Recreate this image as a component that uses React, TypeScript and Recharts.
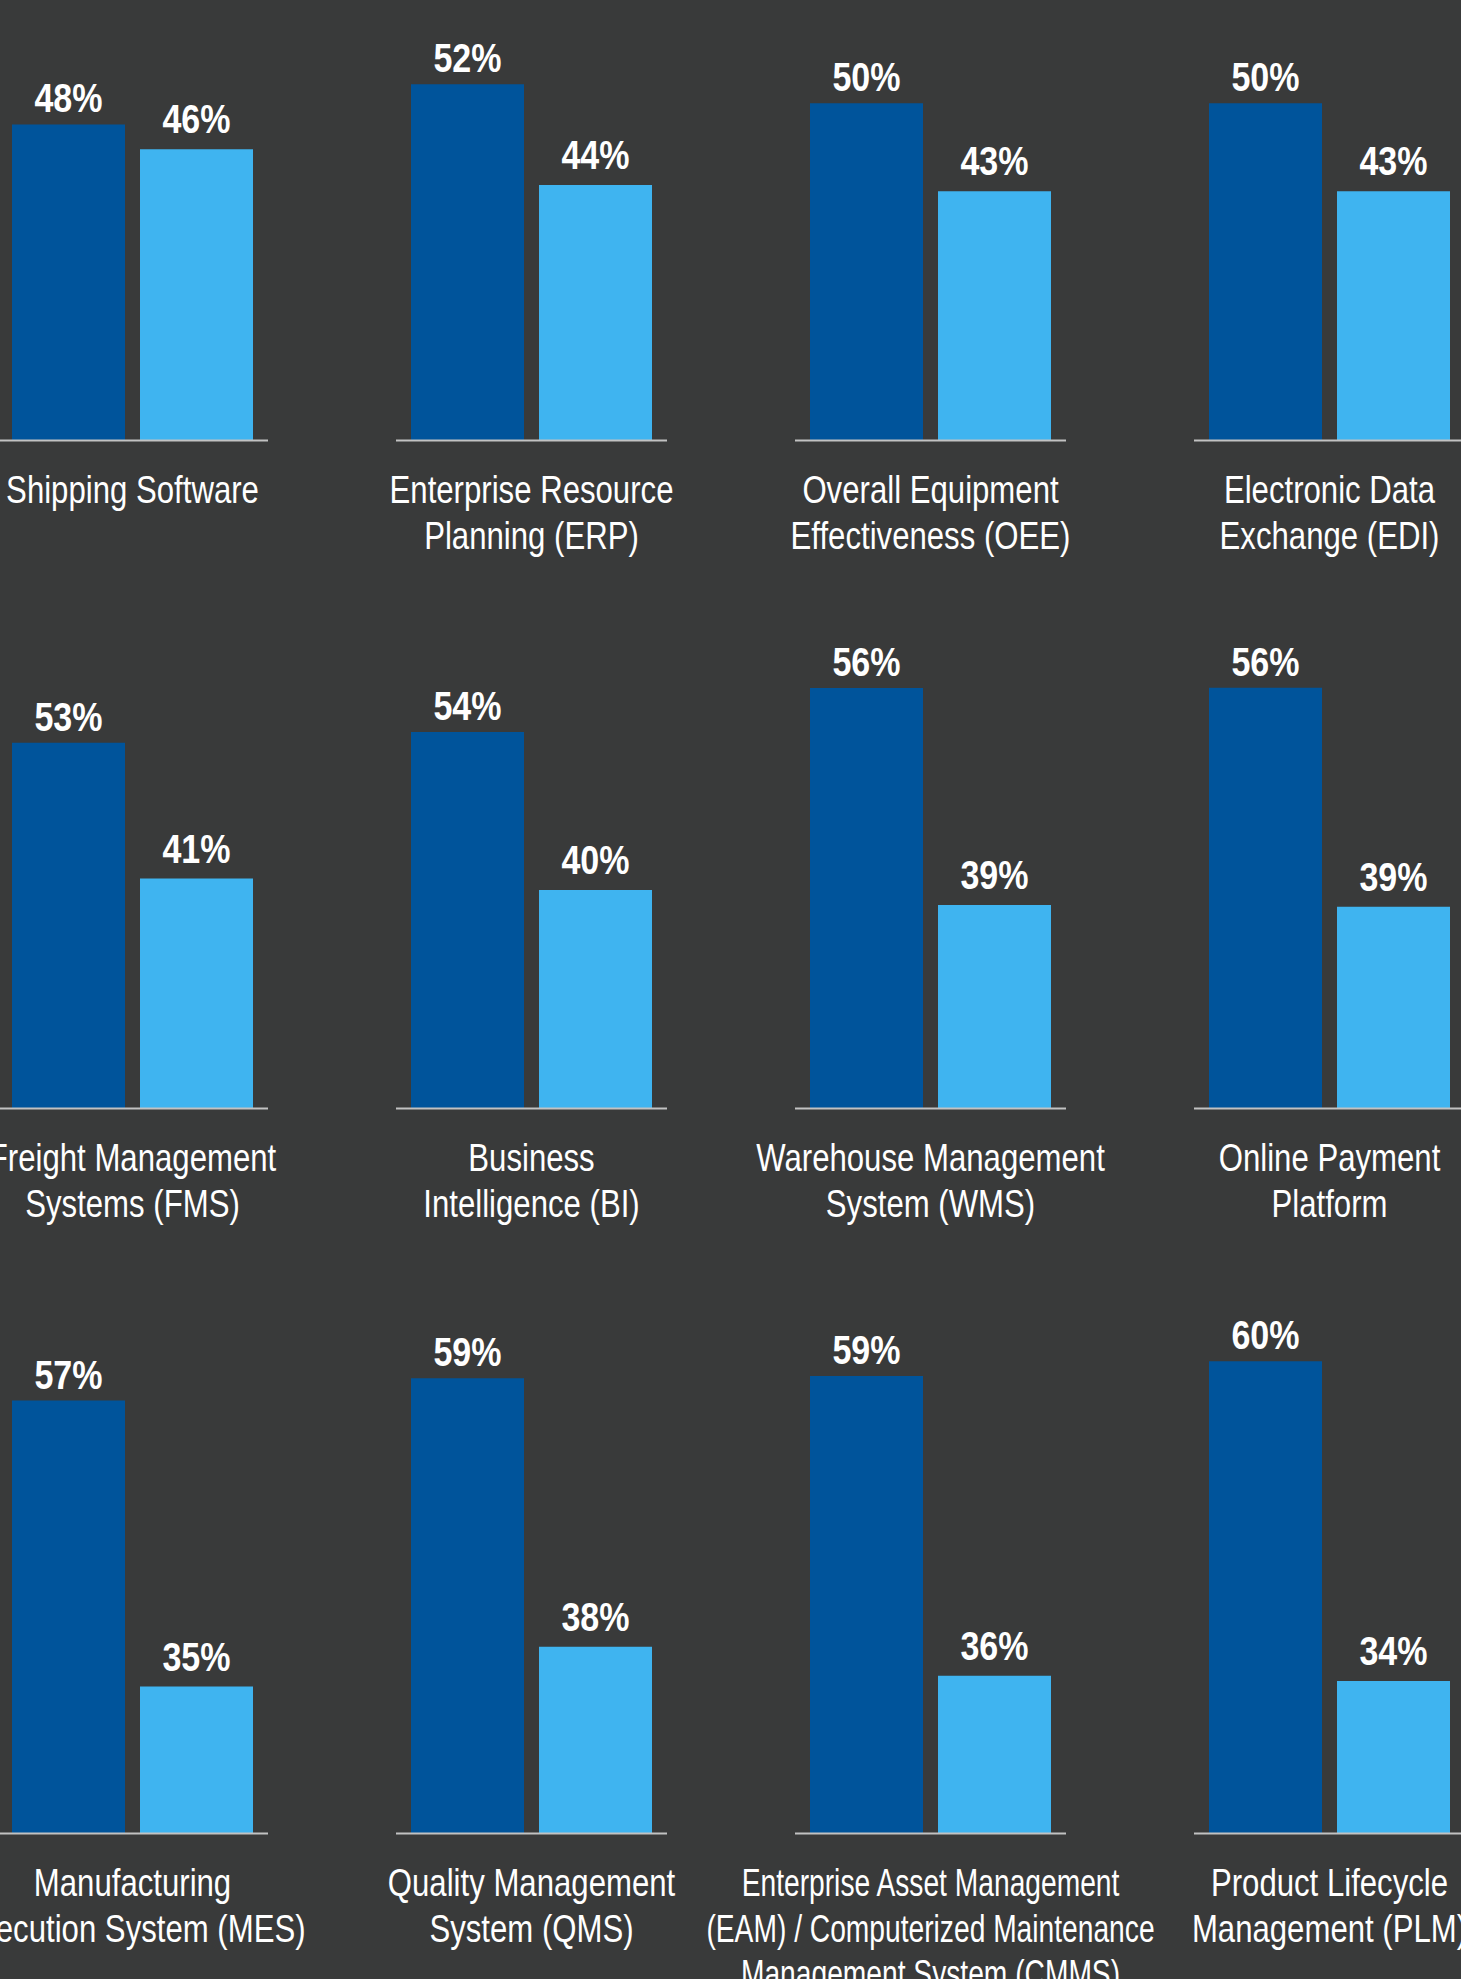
import React from "react";
import { BarChart, Bar, XAxis, YAxis, LabelList } from "recharts";

// category labels, already broken into lines as in the original
const categories: string[][] = [
  ["Shipping Software"],
  ["Enterprise Resource", "Planning (ERP)"],
  ["Overall Equipment", "Effectiveness (OEE)"],
  ["Electronic Data", "Exchange (EDI)"],
  ["Freight Management", "Systems (FMS)"],
  ["Business", "Intelligence (BI)"],
  ["Warehouse Management", "System (WMS)"],
  ["Online Payment", "Platform"],
  ["Manufacturing", "Execution System (MES)"],
  ["Quality Management", "System (QMS)"],
  ["Enterprise Asset Management", "(EAM) / Computerized Maintenance", "Management System (CMMS)"],
  ["Product Lifecycle", "Management (PLM)"],
];

const darkValues = [48, 52, 50, 50, 53, 54, 56, 56, 57, 59, 59, 60];
const lightValues = [46, 44, 43, 43, 41, 40, 39, 39, 35, 38, 36, 34];

// hidden value axis per panel (the original panels are not drawn on one common scale)
const axisDomains: [number, number][] = [
  [22.6, 58.0], [23.7, 58.7], [23.2, 58.2], [23.2, 58.2],
  [20.7, 65.6], [20.65, 65.7], [23.05, 62.9], [23.35, 62.8],
  [23.7, 65.5], [23.4, 65.9], [23.9, 65.6], [21.6, 65.8],
];

const BG = "#393a3a";
const DARK = "#00549b";
const LIGHT = "#3fb4f0";
// no condensed face installed, so Liberation Sans gets squeezed horizontally
const FONT = '"Liberation Sans", Arial, sans-serif';
const NARROW = 0.82;

const ROW_TOP = [0, 600, 1290];
const ROW_BASE = [440.5, 1108.5, 1833.5];
const COL_LEFT = [-67, 332, 731, 1130];
const PANEL_W = 399;
const SIDE = 64;
const AXIS_H = 170;

function CategoryTick(props: any) {
  const { x, y, payload } = props;
  const lines: string[] = String(payload.value).split("\n");
  const squeeze = lines.some((l) => l.length > 24) ? NARROW * 0.905 : NARROW;
  return (
    <g transform={`translate(${x},${y}) scale(${squeeze},1)`}>
      <text textAnchor="middle" fill="#ffffff" fontSize={38} fontFamily={FONT}>
        {lines.map((l, i) => (
          <tspan key={i} x={0} y={63 + i * 45.5}>
            {l}
          </tspan>
        ))}
      </text>
    </g>
  );
}

function ValueLabel(props: any) {
  const { x, y, width, value, offset } = props;
  const cx = Number(x) + Number(width) / 2;
  const cy = Number(y) - Number(offset);
  return (
    <text
      transform={`translate(${cx},${cy}) scale(${NARROW},1)`}
      textAnchor="middle"
      fill="#ffffff"
      fontSize={41.5}
      fontWeight={700}
      fontFamily={FONT}
    >
      {`${value}%`}
    </text>
  );
}

function Panel({ idx }: { idx: number }) {
  const row = Math.floor(idx / 4);
  const col = idx % 4;
  const plotH = ROW_BASE[row] - ROW_TOP[row];
  const data = [
    { name: categories[idx].join("\n"), dark: darkValues[idx], light: lightValues[idx] },
  ];
  return (
    <div style={{ position: "absolute", left: COL_LEFT[col], top: ROW_TOP[row] }}>
      <BarChart
        width={PANEL_W}
        height={plotH + AXIS_H}
        data={data}
        margin={{ top: 0, right: SIDE, bottom: 0, left: SIDE }}
        barGap={15}
        barSize={113}
      >
        <XAxis
          dataKey="name"
          height={AXIS_H}
          tickLine={false}
          tickSize={0}
          tickMargin={0}
          interval={0}
          axisLine={{ stroke: "#c2c2c2", strokeWidth: 2 }}
          tick={<CategoryTick />}
        />
        <YAxis hide type="number" domain={axisDomains[idx]} allowDataOverflow />
        <Bar dataKey="dark" fill={DARK} isAnimationActive={false}>
          <LabelList dataKey="dark" position="top" offset={12} content={<ValueLabel />} />
        </Bar>
        <Bar dataKey="light" fill={LIGHT} isAnimationActive={false}>
          <LabelList dataKey="light" position="top" offset={16} content={<ValueLabel />} />
        </Bar>
      </BarChart>
    </div>
  );
}

export default function App() {
  return (
    <div
      style={{
        position: "absolute",
        left: 0,
        top: 0,
        width: 1461,
        height: 1979,
        overflow: "hidden",
        background: BG,
      }}
    >
      <style>{`.recharts-surface { overflow: visible; }`}</style>
      {categories.map((_, i) => (
        <Panel key={i} idx={i} />
      ))}
    </div>
  );
}
